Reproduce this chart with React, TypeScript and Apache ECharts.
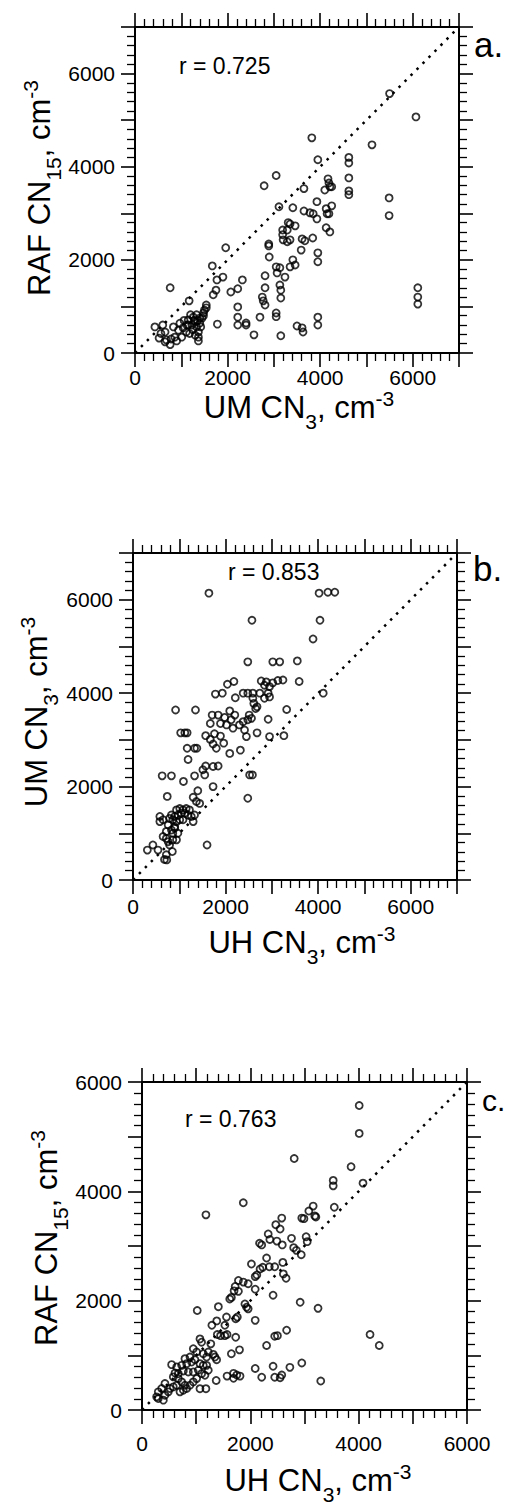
import React, { useEffect, useRef } from "react";
import * as echarts from "echarts";

const FONT = "'Liberation Sans', Arial, Helvetica, sans-serif";

// Panel a: UM CN3 (x) vs RAF CN15 (y)
const panelAPoints: number[][] = [
  [5500, 5570], [6070, 5070], [3820, 4620], [5120, 4470], [3950, 4150], [4620, 4200], [4620, 4080],
  [3050, 3810], [2790, 3590], [4170, 3740], [4190, 3650], [4210, 3570], [4100, 3500], [4250, 3570],
  [4620, 3760], [3650, 3530], [4620, 3480], [4620, 3400], [5490, 3330], [5490, 2950],
  [3410, 3120], [3650, 3050], [3780, 3010], [3850, 2990], [3930, 3250], [4130, 3100], [4150, 2990],
  [4190, 2990], [4250, 3160], [3930, 2880], [4130, 2690], [4210, 2600], [3460, 2730], [3350, 2770],
  [3610, 2450], [3670, 2410], [3840, 2470], [3590, 2210], [3350, 2430], [3950, 2150], [3950, 1960],
  [3410, 2000], [3460, 1890], [3350, 1850], [6110, 1400], [6110, 1200], [6110, 1050], [3500, 580],
  [3610, 540], [3630, 450], [3950, 770], [3950, 600],
  [3110, 3140], [3310, 2800], [3190, 2640], [3190, 2540], [3290, 2640], [3200, 2430], [3290, 2390],
  [2890, 2340], [2890, 2300], [2900, 2060], [3050, 1850], [3130, 1830], [3070, 1720], [3240, 1630],
  [2810, 1660], [3130, 1460], [3150, 1350], [3150, 1180], [2810, 1400], [2750, 1200], [2770, 1120],
  [2810, 1030], [2320, 1570], [2220, 1380], [2070, 1310], [1960, 2260], [1670, 1870], [1900, 1630],
  [1770, 1570], [1750, 1350], [1690, 1250], [1170, 1120], [760, 1400], [2220, 990], [2220, 770],
  [2220, 600], [2400, 645], [2400, 600], [1780, 620], [2570, 390], [2700, 770], [3050, 860],
  [3050, 780], [3150, 370],
  [430, 560], [600, 600], [520, 320], [650, 450], [650, 240], [680, 280], [760, 180], [830, 560],
  [860, 340], [940, 490], [970, 640], [1040, 540], [1110, 450], [1010, 340], [1150, 710], [1150, 600],
  [1230, 600], [1260, 770], [1330, 820], [1400, 750], [1300, 670], [1400, 640], [1330, 560],
  [1370, 450], [1370, 340], [1370, 260], [1480, 860], [1540, 1030], [1540, 970], [1450, 750],
  [1200, 820], [1280, 700], [1350, 700], [1250, 500], [1180, 420], [900, 260], [780, 300], [560, 420],
  [1120, 600], [1060, 700], [1480, 800], [1500, 920], [1300, 380], [1420, 560],
];

// Panel b: UH CN3 (x) vs UM CN3 (y)
const panelBPoints: number[][] = [
  [1640, 6140], [4020, 6140], [4210, 6160], [4360, 6160], [2570, 5560], [4040, 5560], [3890, 5160],
  [4110, 4000],
  [2480, 4670], [3020, 4670], [3170, 4670], [3550, 4690], [3590, 4250], [2040, 4190], [2180, 4250],
  [1780, 3980], [1930, 4000], [2380, 4000], [2480, 4000], [2590, 4000], [2740, 4000], [2920, 4000],
  [2770, 4260], [2880, 4240], [3020, 4220], [3130, 4270], [3240, 4280], [2840, 4170], [2950, 4140],
  [2210, 3900], [2590, 3890], [2610, 3780], [2650, 3670], [2680, 3710], [2840, 3890], [2950, 3920],
  [3320, 3650], [920, 3640], [1350, 3640], [1710, 3530], [1840, 3530], [1980, 3480], [2090, 3620],
  [2200, 3530], [2120, 3430], [2380, 3390], [2480, 3430], [2560, 3460], [2510, 3530], [1670, 3350],
  [1890, 3350], [2020, 3320], [2160, 3250], [2300, 3320], [2410, 3210], [2450, 3070], [2680, 3150],
  [2920, 3440], [2950, 3070], [3260, 3090], [1030, 3150], [1120, 3150], [1170, 3150], [1570, 3090],
  [1670, 3010], [1760, 3130], [1890, 3080], [1960, 2930], [1800, 2820], [1730, 2910], [2090, 2710],
  [2320, 2780], [1170, 2820], [1330, 2820], [1380, 2820], [1190, 2580], [1570, 2440], [1730, 2430],
  [1840, 2440], [1510, 2360], [1550, 2250], [1330, 2230], [630, 2230], [830, 2230], [1090, 2110],
  [1730, 2000], [1400, 1910], [2520, 2250], [2580, 2250], [2480, 1750], [740, 1790], [1300, 1770],
  [1370, 1680], [1440, 1640],
  [940, 1500], [1010, 1530], [1080, 1500], [1150, 1530], [1220, 1500], [1120, 1430], [1040, 1430],
  [970, 1390], [900, 1360], [830, 1390], [790, 1320], [860, 1290], [940, 1250], [1010, 1290],
  [1190, 1390], [1260, 1360], [1330, 1390], [1300, 1250], [1080, 1290], [580, 1360], [580, 1250],
  [650, 1290], [760, 1180], [720, 1040], [830, 1070], [900, 1110], [650, 930], [720, 890], [760, 820],
  [860, 860], [940, 860], [970, 1000], [860, 1000], [790, 750], [900, 1140], [1600, 750],
  [310, 640], [430, 750], [540, 640], [720, 540], [850, 610], [680, 440], [730, 430],
];

// Panel c: UH CN3 (x) vs RAF CN15 (y)
const panelCPoints: number[][] = [
  [4010, 5570], [4010, 5060], [2810, 4600], [3860, 4450], [3530, 4200], [3530, 4100], [4080, 4150],
  [3550, 3710], [3160, 3730], [3080, 3640], [3190, 3550], [3210, 3530], [2990, 3500], [2950, 3510],
  [3030, 3170], [3050, 3080], [2940, 2840], [2920, 1970], [3250, 1860], [4210, 1380], [4380, 1180],
  [2950, 860], [3300, 530], [1180, 3570], [1870, 3790],
  [2580, 3510], [2470, 3390], [2550, 3310], [2330, 3220], [2360, 3120], [2490, 3090], [2590, 3020],
  [2170, 3050], [2210, 3020], [2760, 3140], [2800, 2970], [2850, 2920], [2300, 2780], [2600, 2700],
  [2020, 2670], [2180, 2580], [2230, 2610], [2350, 2620], [2450, 2620], [2090, 2440], [2120, 2470],
  [2610, 2490], [2660, 2410], [1780, 2370], [1870, 2340], [1960, 2310], [1720, 2260], [1700, 2180],
  [1780, 2170], [2090, 2210], [2420, 2100], [1650, 2060], [1620, 2030], [1900, 1940], [1930, 1880],
  [1960, 1850], [1020, 1820], [1410, 1890], [1760, 1700], [1730, 1670], [1290, 1550], [1380, 1630],
  [1530, 1550], [1560, 1700], [2090, 1640], [1390, 1380], [1450, 1360], [1530, 1360], [1570, 1380],
  [1730, 1330], [2450, 1350], [2500, 1360], [2670, 1460], [2300, 1180], [1070, 1300], [1100, 1240],
  [1270, 1210], [1650, 1030], [1800, 1100], [2090, 760], [2420, 800], [2730, 780], [1370, 540],
  [1570, 620], [1690, 670], [1750, 640], [1810, 620], [1690, 580], [2210, 600], [2450, 600],
  [2550, 590], [2580, 640], [1070, 390], [1180, 390],
  [547, 830], [640, 787], [732, 817], [824, 848], [916, 878], [978, 920], [886, 969], [793, 939],
  [1070, 848], [1131, 817], [1039, 726], [947, 696], [855, 696], [763, 714], [670, 665], [609, 678],
  [578, 605], [670, 575], [732, 514], [793, 453], [701, 332], [763, 362], [824, 393], [886, 453],
  [947, 514], [1009, 575], [1101, 665], [1162, 635], [1224, 726], [1193, 817], [640, 453], [578, 423],
  [517, 393], [424, 484], [363, 393], [301, 332], [270, 241], [301, 210], [394, 180], [424, 271],
  [486, 332], [947, 1121], [1009, 1060], [1131, 1030], [1193, 969], [1224, 1060], [1316, 1018],
  [1347, 969], [1378, 920],
];

const tickLabels = ["0", "2000", "4000", "6000"];
const panelLetters = ["a.", "b.", "c."];
const rValues = ["r = 0.725", "r = 0.853", "r = 0.763"];
const axisMax = [7000, 7000, 6000];

export default function App() {
  const ref = useRef<HTMLDivElement>(null);

  useEffect(() => {
    if (!ref.current) return;
    const chart = echarts.init(ref.current, null, { renderer: "svg" });

    const grids = [
      { left: 135, top: 27, width: 324, height: 326 },
      { left: 133, top: 553, width: 324, height: 327 },
      { left: 142, top: 1082, width: 325, height: 328 },
    ];
    const xMargins = [14, 16, 23];
    const yMargin = 20;

    const lbl = (v: number) => (tickLabels.indexOf(String(v)) >= 0 ? String(v) : "");

    const base = (max: number) => ({
      type: "value",
      min: 0,
      max,
      interval: 1000,
      splitLine: { show: false },
      minorSplitLine: { show: false },
      axisLine: { show: true, onZero: false, lineStyle: { color: "#000", width: 2 } },
      axisTick: { show: true, inside: false, length: 14, lineStyle: { color: "#000", width: 1.6 } },
      minorTick: { show: true, splitNumber: 5, length: 8, lineStyle: { color: "#000", width: 1.3 } },
    });

    const labelStyle = (margin: number) => ({
      show: true,
      margin,
      formatter: lbl,
      fontSize: 21,
      color: "#000",
      fontFamily: FONT,
      showMinLabel: true,
      showMaxLabel: true,
    });

    const xAxis: any[] = [];
    const yAxis: any[] = [];
    grids.forEach((g, i) => {
      const max = axisMax[i];
      xAxis.push({ ...base(max), gridIndex: i, position: "bottom", axisLabel: labelStyle(xMargins[i]) });
      xAxis.push({ ...base(max), gridIndex: i, position: "top", axisLabel: { show: false } });
      yAxis.push({ ...base(max), gridIndex: i, position: "left", axisLabel: labelStyle(yMargin) });
      yAxis.push({ ...base(max), gridIndex: i, position: "right", axisLabel: { show: false } });
    });

    const pts = [panelAPoints, panelBPoints, panelCPoints];
    const series: any[] = [];
    pts.forEach((p, i) => {
      series.push({
        type: "line",
        xAxisIndex: i * 2,
        yAxisIndex: i * 2,
        data: [
          [0, 0],
          [axisMax[i], axisMax[i]],
        ],
        symbol: "none",
        silent: true,
        lineStyle: { color: "#000", width: 2.5, type: [2.5, 6] },
      });
      series.push({
        type: "scatter",
        xAxisIndex: i * 2,
        yAxisIndex: i * 2,
        data: p,
        symbol: "circle",
        symbolSize: 7,
        itemStyle: { color: "rgba(0,0,0,0)", borderColor: "#000", borderWidth: 1.8 },
      });
    });

    const rich = {
      m: { fontSize: 31, fontFamily: FONT, fill: "#000", color: "#000", lineHeight: 31, padding: [4, 0, 0, 0], verticalAlign: "top" },
      s: { fontSize: 21, fontFamily: FONT, fill: "#000", color: "#000", lineHeight: 21, padding: [23, 0, 0, 0], verticalAlign: "top" },
      p: { fontSize: 21, fontFamily: FONT, fill: "#000", color: "#000", lineHeight: 21, padding: [0, 0, 0, 0], verticalAlign: "top" },
    };
    const title = (main: string, sub: string, x: number, y: number, rot: number) => ({
      type: "text",
      x,
      y,
      rotation: rot,
      silent: true,
      style: {
        text: `{m|${main}}{s|${sub}}{m|, cm}{p|-3}`,
        rich,
        align: "center",
        verticalAlign: "middle",
        fill: "#000",
      },
    });

    const plain = (text: string, x: number, y: number, size: number) => ({
      type: "text",
      x,
      y,
      silent: true,
      style: {
        text,
        fontSize: size,
        fontFamily: FONT,
        fill: "#000",
        align: "left",
        verticalAlign: "middle",
      },
    });

    const graphic = [
      title("UM CN", "3", 299, 403, 0),
      title("UH CN", "3", 302, 938, 0),
      title("UH CN", "3", 318, 1476, 0),
      title("RAF CN", "15", 35, 188, Math.PI / 2),
      title("UM CN", "3", 32, 712, Math.PI / 2),
      title("RAF CN", "15", 42, 1238, Math.PI / 2),
      plain(rValues[0], 179, 66, 23),
      plain(rValues[1], 228, 572, 23),
      plain(rValues[2], 185, 1119, 23),
      plain(panelLetters[0], 474, 44, 35),
      plain(panelLetters[1], 473, 568, 35),
      plain(panelLetters[2], 482, 1100, 30),
    ];

    chart.setOption({
      animation: false,
      backgroundColor: "#fff",
      grid: grids,
      xAxis,
      yAxis,
      series,
      graphic,
    });

    return () => chart.dispose();
  }, []);

  return (
    <div
      ref={ref}
      style={{ position: "absolute", left: 0, top: 0, width: 505, height: 1506 }}
    />
  );
}
